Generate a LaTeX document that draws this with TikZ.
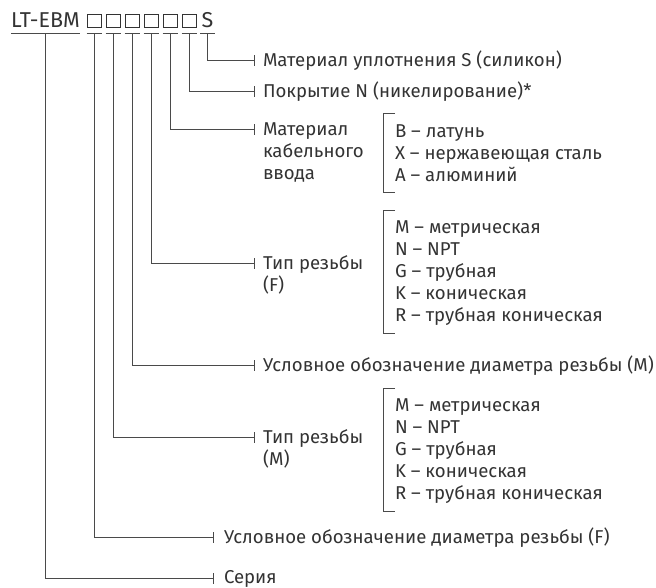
\documentclass[tikz,border=0pt]{standalone}
\usepackage{fontspec}
\setmainfont{Fira Sans}
\definecolor{txt}{HTML}{333333}
\definecolor{ln}{HTML}{4A4A4A}
\tikzset{
  lbl/.style={anchor=base west, inner sep=0, outer sep=0, text=txt, font=\fontsize{18.6}{22}\selectfont},
  codetxt/.style={anchor=base, inner sep=0, outer sep=0, text=txt, font=\fontsize{21.5}{24}\selectfont},
  boxsym/.style={draw=txt, line width=0.8pt, minimum width=14pt, minimum height=12.5pt, inner sep=0, outer sep=0},
  conn/.style={draw=ln, line width=0.9pt},
  tickmark/.style={draw=ln, line width=0.9pt}
}
\begin{document}
\begin{tikzpicture}[x=1pt,y=-1pt]
\useasboundingbox (0,0) rectangle (656,587);
% code
\node[codetxt, anchor=base west] (c0) at (11,27) {LT-EBM};
\foreach \i/\x in {1/94,2/113,3/132,4/151,5/170,6/189}
  \node[boxsym] (b\i) at (\x,21) {};
\node[codetxt] (s7) at (207.5,27) {S};
% underlines
\draw[conn] ([yshift=-6]c0.south west) -- ([yshift=-6]c0.south east);
\foreach \i in {1,...,6}
  \draw[conn] ([xshift=-7.5,yshift=-5.75]b\i.south) -- ([xshift=7.5,yshift=-5.75]b\i.south);
\draw[conn] ([xshift=-7.5]s7.base |- 0,33) -- ([xshift=7.5]s7.base |- 0,33);
% tick coordinates
\coordinate (k1) at (254,60);
\coordinate (k2) at (254,91);
\coordinate (k3) at (254,129);
\coordinate (k4) at (254,263);
\coordinate (k5) at (254,365);
\coordinate (k6) at (254,437);
\coordinate (k7) at (213,537);
\coordinate (k8) at (213,578);
% connectors
\draw[conn] (s7.base |- 0,33) |- (k1);
\draw[conn] ([yshift=-5.75]b6.south) |- (k2);
\draw[conn] ([yshift=-5.75]b5.south) |- (k3);
\draw[conn] ([yshift=-5.75]b4.south) |- (k4);
\draw[conn] ([yshift=-5.75]b3.south) |- (k5);
\draw[conn] ([yshift=-5.75]b2.south) |- (k6);
\draw[conn] ([yshift=-5.75]b1.south) |- (k7);
\draw[conn] ([yshift=-6]c0.south) |- (k8);
\foreach \k in {1,...,8}
  \draw[tickmark] ([yshift=-5.5]k\k) -- ([yshift=5.5]k\k);
% labels
\node[lbl] (l1) at (263,66.5) {Материал уплотнения S (силикон)};
\node[lbl] (l2) at (263,97.5) {Покрытие N (никелирование)*};
\node[lbl] (l3a) at (263,135.5) {Материал};
\node[lbl] (l3b) at (263,157.5) {кабельного};
\node[lbl] (l3c) at (263,179.5) {ввода};
\node[lbl] (l4a) at (263,269.5) {Тип резьбы};
\node[lbl] (l4b) at (263,291.5) {(F)};
\node[lbl] (l5) at (263,371.5) {Условное обозначение диаметра резьбы (M)};
\node[lbl] (l6a) at (263,443.5) {Тип резьбы};
\node[lbl] (l6b) at (263,465.5) {(M)};
\node[lbl] (l7) at (224,543.5) {Условное обозначение диаметра резьбы (F)};
\node[lbl] (l8) at (224,583.5) {Серия};
% list 1
\draw[conn] (395,113) -| (383,192) -- (395,192);
\node[lbl] (m1) at (395,137.5) {B – латунь};
\node[lbl] (m2) at (395,159.5) {X – нержавеющая сталь};
\node[lbl] (m3) at (395,181.5) {A – алюминий};
% list 2
\draw[conn] (395,210) -| (383,333) -- (395,333);
\node[lbl] (f1) at (395,233.5) {M – метрическая};
\node[lbl] (f2) at (395,255.5) {N – NPT};
\node[lbl] (f3) at (395,277.5) {G – трубная};
\node[lbl] (f4) at (395,299.5) {K – коническая};
\node[lbl] (f5) at (395,321.5) {R – трубная коническая};
% list 3
\draw[conn] (395,388) -| (383,511) -- (395,511);
\node[lbl] (g1) at (395,411.5) {M – метрическая};
\node[lbl] (g2) at (395,433.5) {N – NPT};
\node[lbl] (g3) at (395,455.5) {G – трубная};
\node[lbl] (g4) at (395,477.5) {K – коническая};
\node[lbl] (g5) at (395,499.5) {R – трубная коническая};
\end{tikzpicture}
\end{document}
